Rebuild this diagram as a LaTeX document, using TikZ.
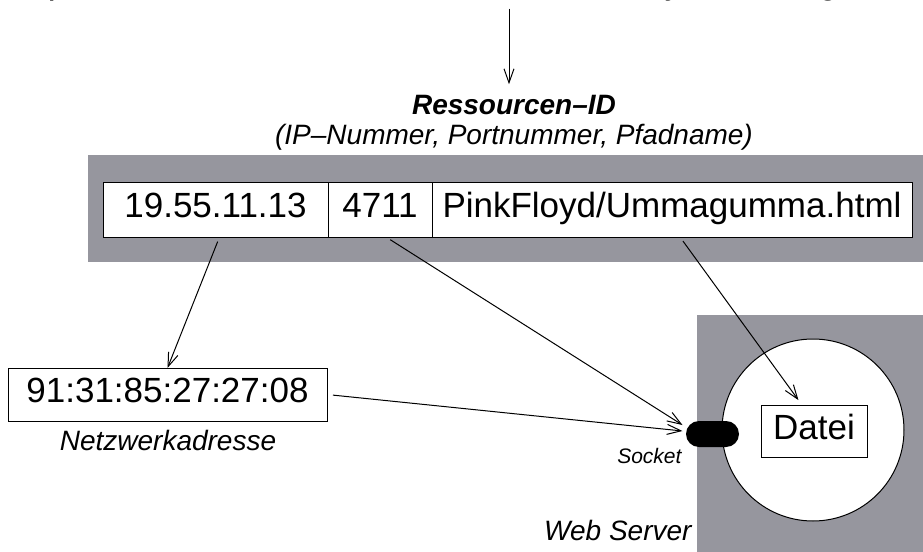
\documentclass[tikz,border=0pt]{standalone}
\usepackage{fontspec}
\setmainfont{Liberation Sans}
\setmonofont{Liberation Mono}
\usepackage{tikz}
\usetikzlibrary{arrows.meta}
\usetikzlibrary{positioning}
\usetikzlibrary{calc}
\definecolor{bandgray}{RGB}{150,150,158}

\begin{document}
\begin{tikzpicture}[x=0.5pt,y=-0.5pt,line width=0.5pt,>={Straight Barb[length=7pt,width=5pt]},
	cell/.style={draw, fill=white, outer sep=0pt, inner sep=0pt, minimum height=27.5pt, text height=12.5pt, text depth=4.5pt, font=\fontsize{17.5pt}{21pt}\selectfont},
	lbl/.style={inner sep=0pt, anchor=base, font=\fontsize{14pt}{17pt}\selectfont\itshape}]
			\useasboundingbox (0,0) rectangle (923,552);
			\clip (0,0) rectangle (923,552);
			
			% Backgrounds
			\fill[bandgray] (88,155) rectangle (923,262);
			\fill[bandgray] (697,315) rectangle (923,552);
			
			% Nodes
			\node[lbl, font=\fontsize{18.33pt}{22pt}\selectfont\ttfamily] (url) at (509,-6.5) {http://19.55.11.13:4711/PinkFloyd/Ummagumma.html};
			\node[lbl, font=\fontsize{14pt}{17pt}\selectfont\bfseries\itshape] (resid) at (514,114) {Ressourcen--ID};
			\node[lbl] (resdesc) at (514,144) {(IP--Nummer, Portnummer, Pfadname)};
			
			\node[cell, minimum width=112.5pt] (ip) at (215.5,209.5) {19.55.11.13};
			\node[cell, minimum width=52pt, right=0pt of ip] (port) {4711};
			\node[cell, minimum width=240pt, right=0pt of port] (path) {PinkFloyd/Ummagumma.html};
			
			\node[cell, minimum width=159.5pt, minimum height=26.5pt] (mac) at (167.5,394.5) {91:31:85:27:27:08};
			\node[lbl] (netz) at (168,450) {Netzwerkadresse};
			
			\node[circle, draw, fill=white, minimum size=91pt, inner sep=0pt] (server) at (813,430) {};
			\node[cell, minimum width=53pt, minimum height=26pt] (datei) at (814,431) {Datei};
			\node[fill=black, rounded corners=6.5pt, minimum width=26.5pt, minimum height=13pt, inner sep=0pt] (socket) at (712.5,434) {};
			\node[lbl, anchor=base east, font=\fontsize{10.5pt}{13pt}\selectfont\itshape] (socklbl) at (682,463) {Socket};
			\node[lbl, anchor=base east] (websrv) at (692,540) {Web Server};
			
			% Connectors
			\draw[->, shorten <=3.5pt, shorten >=5pt] (url.south) -- (url.south |- resid.north);
			\draw[->, shorten <=2.5pt] ($(ip.south)+(4,0)$) -- (mac.north);
			\draw[->, shorten <=2.5pt] ($(port.south)+(6,0)$) -- ($(socket.west)+(-3,-9)$);
			\draw[->, shorten <=2.5pt, shorten >=3pt] ($(path.south)+(8,0)$) -- ($(datei.north)+(-12,0)$);
			\draw[->, shorten <=3pt] (mac.east) -- ($(socket.west)+(-3,-3)$);
			
		\end{tikzpicture}
\end{document}
